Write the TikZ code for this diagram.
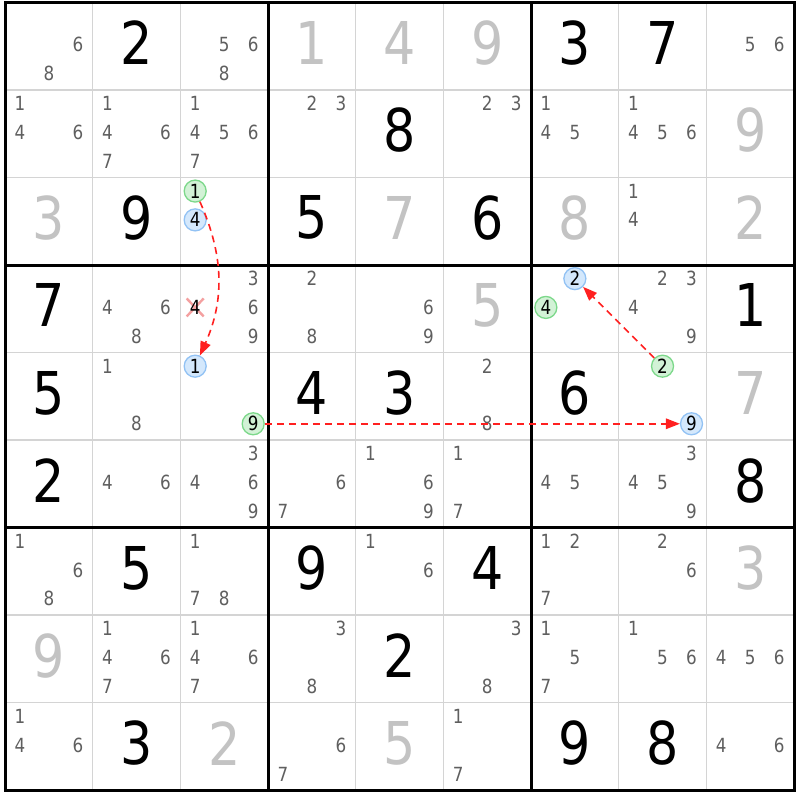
\documentclass[tikz,border=0pt]{standalone}
\usepackage{fontspec}
\setmainfont[FakeStretch=0.86]{DejaVu Sans}
\usetikzlibrary{arrows.meta}
\definecolor{thingray}{HTML}{D4D4D4}
\definecolor{solvedgray}{HTML}{C3C3C3}
\definecolor{candgray}{HTML}{5F5F5F}
\definecolor{gfill}{HTML}{D2F2D6}
\definecolor{gline}{HTML}{7CD88A}
\definecolor{bfill}{HTML}{D4E8FC}
\definecolor{bline}{HTML}{92C2F4}
\definecolor{linkred}{HTML}{FF2020}
\definecolor{xpink}{HTML}{F4A0A0}
\tikzset{
 given/.style={font=\fontsize{59}{59}\selectfont, text=black, inner sep=0pt},
 solved/.style={given, text=solvedgray},
 cand/.style={font=\fontsize{19.5}{19.5}\selectfont, text=candgray, inner sep=0pt},
 gcirc/.style={cand, text=black, circle, draw=gline, fill=gfill, line width=1.3pt, minimum size=22pt},
 bcirc/.style={gcirc, draw=bline, fill=bfill},
 link/.style={draw=linkred, line width=1.6pt, dash pattern=on 7pt off 5pt, -{Triangle[length=14pt,width=10.5pt]}},
 thinline/.style={draw=thingray, line width=1.5pt},
 thickline/.style={draw=black, line width=3pt},
 crossmark/.style={draw=xpink, line width=2.4pt},
}
\newcommand\cellx[1]{5+(#1-0.5)*87.67}
\newcommand\celly[1]{2+(#1-0.5)*87.55}
\newcommand\Given[3]{\node[given] (n#1#2) at ({\cellx{#2}},{\celly{#1}-3}) {#3};}
\newcommand\Solved[3]{\node[solved] (n#1#2) at ({\cellx{#2}},{\celly{#1}-3}) {#3};}
\newcommand\Cands[3]{\foreach \k in {#3}{\node[cand] (c#1#2\k) at ({\cellx{#2}+(mod(\k-1,3)-1)*29},{\celly{#1}-1+(floor((\k-1)/3)-1)*28.8}) {\k};}}
\newcommand\GreenC[3]{\node[gcirc] (c#1#2#3) at ({\cellx{#2}+(mod(#3-1,3)-1)*29},{\celly{#1}-1+(floor((#3-1)/3)-1)*28.8}) {#3};}
\newcommand\BlueC[3]{\node[bcirc] (c#1#2#3) at ({\cellx{#2}+(mod(#3-1,3)-1)*29},{\celly{#1}-1+(floor((#3-1)/3)-1)*28.8}) {#3};}
\begin{document}
\begin{tikzpicture}[x=1pt,y=-1pt]
\useasboundingbox (0,0) rectangle (800,800);
\fill[white] (0,0) rectangle (800,800);
% grid
\foreach \i in {1,2,4,5,7,8}{
  \draw[thinline] ({5+\i*87.67},2.5) -- ({5+\i*87.67},790);
  \draw[thinline] (5,{2.5+\i*87.5}) -- (794,{2.5+\i*87.5});
}
\foreach \i in {3,6}{
  \draw[thickline] ({5+\i*87.67},2.5) -- ({5+\i*87.67},790);
  \draw[thickline] (5,{2.5+\i*87.5}) -- (794,{2.5+\i*87.5});
}
\draw[thickline] (5,2.5) rectangle (794,790);
% row 1
\Cands{1}{1}{6,8}
\Given{1}{2}{2}
\Cands{1}{3}{5,6,8}
\Solved{1}{4}{1}
\Solved{1}{5}{4}
\Solved{1}{6}{9}
\Given{1}{7}{3}
\Given{1}{8}{7}
\Cands{1}{9}{5,6}
% row 2
\Cands{2}{1}{1,4,6}
\Cands{2}{2}{1,4,6,7}
\Cands{2}{3}{1,4,5,6,7}
\Cands{2}{4}{2,3}
\Given{2}{5}{8}
\Cands{2}{6}{2,3}
\Cands{2}{7}{1,4,5}
\Cands{2}{8}{1,4,5,6}
\Solved{2}{9}{9}
% row 3
\Solved{3}{1}{3}
\Given{3}{2}{9}
\GreenC{3}{3}{1}
\BlueC{3}{3}{4}
\Given{3}{4}{5}
\Solved{3}{5}{7}
\Given{3}{6}{6}
\Solved{3}{7}{8}
\Cands{3}{8}{1,4}
\Solved{3}{9}{2}
% row 4
\Given{4}{1}{7}
\Cands{4}{2}{4,6,8}
\coordinate (x434) at ({\cellx{3}-29},{\celly{4}-1});
\draw[crossmark] ([shift={(-8.5,-9)}]x434) -- ([shift={(8.5,9)}]x434);
\draw[crossmark] ([shift={(-8.5,9)}]x434) -- ([shift={(8.5,-9)}]x434);
\node[cand, text=black] (c434) at (x434) {4};
\Cands{4}{3}{3,6,9}
\Cands{4}{4}{2,8}
\Cands{4}{5}{6,9}
\Solved{4}{6}{5}
\BlueC{4}{7}{2}
\GreenC{4}{7}{4}
\Cands{4}{8}{2,3,4,9}
\Given{4}{9}{1}
% row 5
\Given{5}{1}{5}
\Cands{5}{2}{1,8}
\BlueC{5}{3}{1}
\GreenC{5}{3}{9}
\Given{5}{4}{4}
\Given{5}{5}{3}
\Cands{5}{6}{2,8}
\Given{5}{7}{6}
\GreenC{5}{8}{2}
\BlueC{5}{8}{9}
\Solved{5}{9}{7}
% row 6
\Given{6}{1}{2}
\Cands{6}{2}{4,6}
\Cands{6}{3}{3,4,6,9}
\Cands{6}{4}{6,7}
\Cands{6}{5}{1,6,9}
\Cands{6}{6}{1,7}
\Cands{6}{7}{4,5}
\Cands{6}{8}{3,4,5,9}
\Given{6}{9}{8}
% row 7
\Cands{7}{1}{1,6,8}
\Given{7}{2}{5}
\Cands{7}{3}{1,7,8}
\Given{7}{4}{9}
\Cands{7}{5}{1,6}
\Given{7}{6}{4}
\Cands{7}{7}{1,2,7}
\Cands{7}{8}{2,6}
\Solved{7}{9}{3}
% row 8
\Solved{8}{1}{9}
\Cands{8}{2}{1,4,6,7}
\Cands{8}{3}{1,4,6,7}
\Cands{8}{4}{3,8}
\Given{8}{5}{2}
\Cands{8}{6}{3,8}
\Cands{8}{7}{1,5,7}
\Cands{8}{8}{1,5,6}
\Cands{8}{9}{4,5,6}
% row 9
\Cands{9}{1}{1,4,6}
\Given{9}{2}{3}
\Solved{9}{3}{2}
\Cands{9}{4}{6,7}
\Solved{9}{5}{5}
\Cands{9}{6}{1,7}
\Given{9}{7}{9}
\Given{9}{8}{8}
\Cands{9}{9}{4,6}
% links
\draw[link] (c331) to[bend left=24] (c531);
\draw[link] (c539.east) -- (c589.west);
\draw[link] (c582) -- (c472);
\end{tikzpicture}
\end{document}
